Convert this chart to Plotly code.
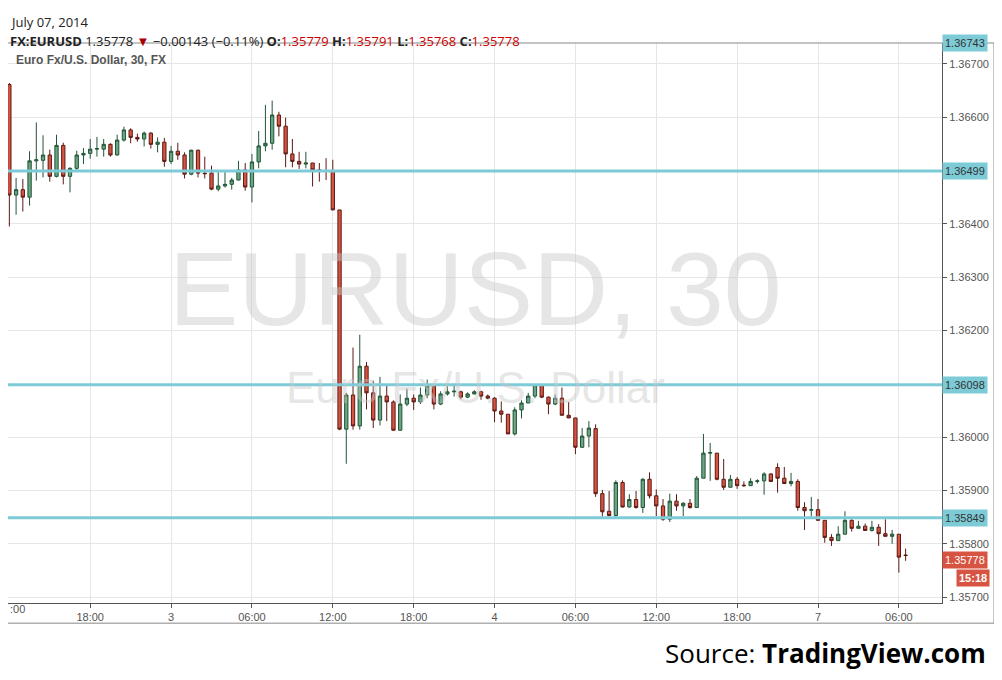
import plotly.graph_objects as go

opens = [1.36661,1.36454,1.36464,1.36450,1.36518,1.36519,1.36529,1.36489,1.36547,1.36489,
1.36504,1.36529,1.36532,1.36540,1.36540,1.36549,1.36529,1.36557,1.36576,1.36562,
1.36559,1.36570,1.36549,1.36553,1.36517,1.36536,1.36529,1.36493,1.36538,1.36495,
1.36495,1.36465,1.36471,1.36474,1.36482,1.36501,1.36469,1.36516,1.36546,1.36551,
1.36604,1.36583,1.36531,1.36517,1.36512,1.36514,1.36501,1.36500,1.36498,1.36426,
1.36015,1.36079,1.36021,1.36133,1.36083,1.36032,1.36077,1.36066,1.36013,1.36062,
1.36073,1.36066,1.36079,1.36096,1.36062,1.36081,1.36085,1.36085,1.36075,1.36081,
1.36085,1.36077,1.36073,1.36049,1.36043,1.36006,1.36051,1.36064,1.36077,1.36098,
1.36075,1.36062,1.36073,1.36041,1.36036,1.35981,1.36002,1.36016,1.35894,1.35861,
1.35853,1.35915,1.35869,1.35883,1.35868,1.35921,1.35890,1.35871,1.35846,1.35880,
1.35871,1.35876,1.35868,1.35923,1.35970,1.35970,1.35921,1.35906,1.35921,1.35910,
1.35909,1.35917,1.35918,1.35931,1.35943,1.35923,1.35913,1.35917,1.35868,1.35863,
1.35864,1.35844,1.35812,1.35806,1.35818,1.35844,1.35829,1.35833,1.35825,1.35831,
1.35819,1.35814,1.35818,1.35779]
highs = [1.36664,1.36486,1.36484,1.36536,1.36590,1.36566,1.36539,1.36567,1.36552,1.36506,
1.36537,1.36542,1.36559,1.36563,1.36559,1.36551,1.36567,1.36582,1.36579,1.36569,
1.36573,1.36572,1.36562,1.36561,1.36546,1.36552,1.36534,1.36539,1.36539,1.36526,
1.36509,1.36497,1.36497,1.36486,1.36518,1.36514,1.36531,1.36574,1.36623,1.36631,
1.36610,1.36599,1.36559,1.36535,1.36535,1.36514,1.36514,1.36523,1.36520,1.36426,
1.36083,1.36168,1.36192,1.36141,1.36106,1.36113,1.36098,1.36069,1.36080,1.36091,
1.36080,1.36093,1.36108,1.36096,1.36086,1.36098,1.36100,1.36087,1.36084,1.36088,
1.36087,1.36080,1.36075,1.36067,1.36043,1.36056,1.36069,1.36083,1.36098,1.36098,
1.36076,1.36080,1.36093,1.36066,1.36036,1.36017,1.36030,1.36024,1.35901,1.35899,
1.35919,1.35919,1.35893,1.35899,1.35923,1.35934,1.35902,1.35884,1.35894,1.35893,
1.35878,1.35884,1.35927,1.36006,1.35989,1.35970,1.35959,1.35929,1.35925,1.35917,
1.35923,1.35921,1.35934,1.35932,1.35951,1.35944,1.35933,1.35921,1.35878,1.35888,
1.35884,1.35844,1.35818,1.35833,1.35861,1.35846,1.35843,1.35838,1.35843,1.35837,
1.35846,1.35826,1.35818,1.35791]
lows = [1.36395,1.36417,1.36423,1.36434,1.36481,1.36487,1.36479,1.36487,1.36474,1.36459,
1.36501,1.36512,1.36522,1.36526,1.36526,1.36526,1.36528,1.36554,1.36551,1.36554,
1.36545,1.36541,1.36534,1.36507,1.36512,1.36520,1.36485,1.36491,1.36487,1.36485,
1.36463,1.36461,1.36468,1.36464,1.36482,1.36462,1.36440,1.36504,1.36536,1.36539,
1.36564,1.36506,1.36506,1.36503,1.36504,1.36470,1.36479,1.36482,1.36426,1.36013,
1.35950,1.36014,1.36014,1.36052,1.36017,1.36022,1.36030,1.36012,1.36012,1.36058,
1.36051,1.36062,1.36073,1.36052,1.36060,1.36078,1.36076,1.36071,1.36073,1.36080,
1.36070,1.36071,1.36028,1.36027,1.36006,1.36003,1.36035,1.36064,1.36073,1.36073,
1.36043,1.36060,1.36041,1.36036,1.35968,1.35980,1.35981,1.35888,1.35851,1.35851,
1.35851,1.35868,1.35868,1.35866,1.35858,1.35885,1.35852,1.35843,1.35841,1.35862,
1.35852,1.35866,1.35868,1.35923,1.35918,1.35919,1.35901,1.35906,1.35903,1.35907,
1.35909,1.35913,1.35892,1.35916,1.35896,1.35913,1.35908,1.35862,1.35826,1.35851,
1.35844,1.35802,1.35796,1.35806,1.35818,1.35823,1.35829,1.35825,1.35823,1.35796,
1.35814,1.35800,1.35746,1.35768]
closes = [1.36454,1.36464,1.36450,1.36518,1.36520,1.36529,1.36489,1.36547,1.36489,1.36504,
1.36529,1.36532,1.36540,1.36541,1.36549,1.36529,1.36557,1.36576,1.36562,1.36559,
1.36570,1.36549,1.36553,1.36517,1.36536,1.36529,1.36493,1.36538,1.36495,1.36494,
1.36465,1.36471,1.36474,1.36482,1.36501,1.36469,1.36516,1.36546,1.36551,1.36604,
1.36583,1.36531,1.36517,1.36512,1.36514,1.36501,1.36500,1.36499,1.36426,1.36015,
1.36079,1.36021,1.36133,1.36083,1.36032,1.36077,1.36066,1.36013,1.36062,1.36073,
1.36066,1.36079,1.36096,1.36062,1.36081,1.36085,1.36086,1.36075,1.36081,1.36085,
1.36077,1.36073,1.36049,1.36043,1.36006,1.36051,1.36064,1.36077,1.36098,1.36075,
1.36062,1.36073,1.36041,1.36036,1.35981,1.36002,1.36017,1.35894,1.35860,1.35853,
1.35915,1.35869,1.35883,1.35868,1.35921,1.35890,1.35871,1.35846,1.35880,1.35871,
1.35876,1.35868,1.35923,1.35970,1.35971,1.35921,1.35906,1.35921,1.35909,1.35909,
1.35917,1.35918,1.35931,1.35917,1.35923,1.35913,1.35917,1.35868,1.35862,1.35864,
1.35844,1.35812,1.35806,1.35818,1.35844,1.35829,1.35833,1.35825,1.35831,1.35819,
1.35814,1.35818,1.35775,1.35778]

tick_labels = ["12:00","18:00","3","06:00","12:00","18:00","4","06:00","12:00","18:00","7","06:00"]
tick_step = 12
y_ticks = [1.357, 1.358, 1.359, 1.360, 1.362, 1.363, 1.364, 1.366, 1.367]
levels = [1.36499, 1.36098, 1.35849]
top_level = 1.36743
last_price = 1.35778

x = list(range(len(opens)))
fig = go.Figure(go.Candlestick(
    x=x, open=opens, high=highs, low=lows, close=closes,
    increasing=dict(fillcolor="#6ba583", line=dict(color="#225437", width=1)),
    decreasing=dict(fillcolor="#d75442", line=dict(color="#5b1a13", width=1)),
    whiskerwidth=0, showlegend=False, hoverinfo="skip"))

F = "Liberation Sans"
CY = "#7ecbd8"
for lv in levels:
    fig.add_hline(y=lv, line=dict(color=CY, width=3), layer="above")
    fig.add_annotation(xref="paper", x=1.0, y=lv, yref="y", text=f"{lv:.5f}", showarrow=False,
                       xanchor="left", bgcolor=CY, font=dict(size=11, color="#333", family=F),
                       borderpad=2)
# partly hidden level box at the top edge
fig.add_annotation(xref="paper", x=1.0, yref="paper", y=1.0, yanchor="middle", yshift=0,
                   text=f"{top_level:.5f}", showarrow=False,
                   xanchor="left", bgcolor=CY, font=dict(size=11, color="#333", family=F), borderpad=2)
fig.add_shape(type="rect", xref="paper", yref="paper", x0=1.0, x1=1.06, y0=1.009, y1=1.06,
              fillcolor="white", line=dict(width=0), layer="above")
fig.add_annotation(xref="paper", x=1.0, y=last_price, yref="y", yshift=-4, text=f"{last_price:.5f}",
                   showarrow=False, xanchor="left", bgcolor="#d75442",
                   font=dict(size=11, color="white", family=F), borderpad=2)
fig.add_annotation(xref="paper", x=1.0514, y=last_price, yref="y", yshift=-22, text="<b>15:18</b>",
                   showarrow=False, xanchor="right", bgcolor="#d75442",
                   font=dict(size=11, color="white", family=F), borderpad=2)
# clipped first tick label
fig.add_annotation(xref="paper", x=0.0, yref="paper", y=0, yshift=-14, text=tick_labels[0][2:],
                   showarrow=False, xanchor="left", font=dict(size=11, color="#555", family=F))

# watermarks
fig.add_annotation(xref="paper", yref="paper", x=0.5, y=0.56, text="EURUSD, 30", showarrow=False,
                   font=dict(size=104, color="rgba(200,200,200,0.45)", family=F))
fig.add_annotation(xref="paper", yref="paper", x=0.5, y=0.385, text="Euro Fx/U.S. Dollar", showarrow=False,
                   font=dict(size=44, color="rgba(200,200,200,0.45)", family=F))
fig.add_annotation(xref="paper", yref="paper", x=0.006, y=0.985, text="<b>Euro Fx/U.S. Dollar, 30, FX</b>",
                   showarrow=False, xanchor="left", yanchor="top",
                   font=dict(size=12, color="#555", family=F))
# header
fig.add_annotation(xref="paper", yref="paper", x=0.0, y=1.0, yshift=32, text="July 07, 2014",
                   showarrow=False, xanchor="left", font=dict(size=13, color="#222", family="Open Sans"))
fig.add_annotation(xref="paper", yref="paper", x=0.0, y=1.0, yshift=13,
                   text=("<b>FX:EURUSD</b> 1.35778 <span style='color:#a00'>▼</span> −0.00143 (−0.11%) "
                         "<b>O:</b><span style='color:#c00'>1.35779</span> <b>H:</b><span style='color:#c00'>1.35791</span> "
                         "<b>L:</b><span style='color:#c00'>1.35768</span> <b>C:</b><span style='color:#c00'>1.35778</span>"),
                   showarrow=False, xanchor="left", font=dict(size=13, color="#222", family="Open Sans"))
fig.add_annotation(xref="paper", yref="paper", x=1.049, y=0, yshift=-50,
                   text="Source: <b>TradingView.com</b>", showarrow=False, xanchor="right", yanchor="middle",
                   font=dict(size=26, color="black", family="Open Sans"))
# outer frame
fig.add_shape(type="rect", xref="paper", yref="paper", x0=-0.001, x1=1.0557, y0=-0.036, y1=1,
              line=dict(color="#888", width=1))

fig.update_layout(
    width=994, height=672, margin=dict(l=0, r=60, t=35, b=77, autoexpand=False),
    paper_bgcolor="white", plot_bgcolor="white",
    xaxis=dict(range=[-0.2, 138.4], rangeslider=dict(visible=False), automargin=False,
               tickvals=[i * tick_step for i in range(1, len(tick_labels))], ticktext=tick_labels[1:],
               showgrid=True, gridcolor="#e6e6e6", ticks="outside", ticklen=4, tickcolor="#555",
               showline=True, linecolor="#555",
               tickfont=dict(size=11, color="#555", family=F), zeroline=False),
    yaxis=dict(side="right", range=[1.35689, 1.36739], tickvals=y_ticks, tickformat=".5f",
               automargin=False,
               showgrid=True, gridcolor="#e6e6e6", ticks="outside", ticklen=4, tickcolor="#555",
               showline=True, linecolor="#555",
               tickfont=dict(size=11, color="#555", family=F), zeroline=False),
)
fig.write_html("out.html")
